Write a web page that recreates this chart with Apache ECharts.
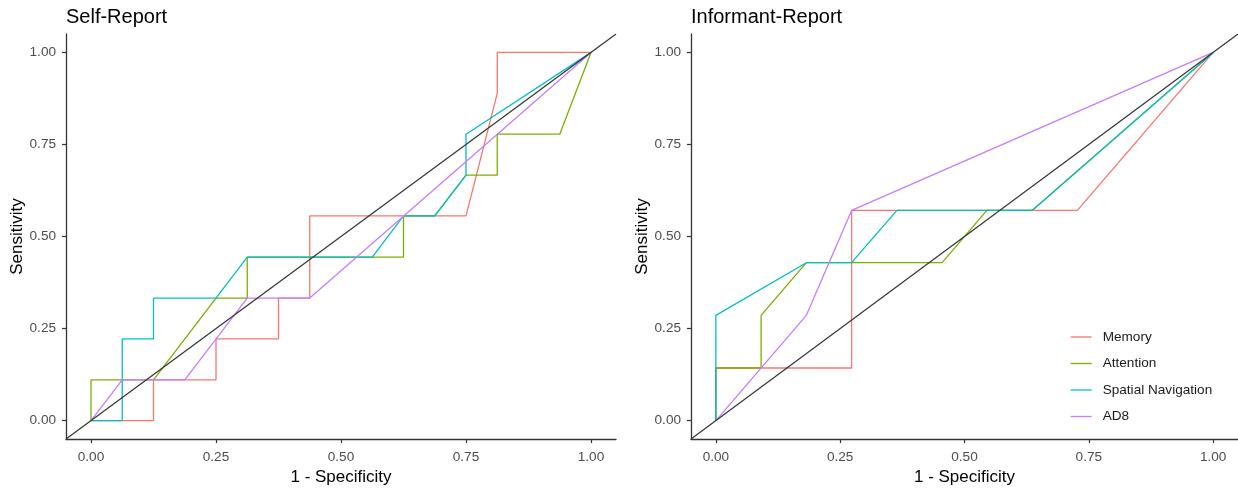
<!DOCTYPE html>
<html>
<head>
<meta charset="utf-8">
<script src="https://cdn.jsdelivr.net/npm/echarts@6/dist/echarts.min.js"></script>
<style>
  html, body { margin: 0; padding: 0; background: #fff; }
  #chart { width: 1238px; height: 491px; }
</style>
</head>
<body>
<div id="chart"></div>
<script>
// ---------- data ----------
const seriesNames = ['Memory', 'Attention', 'Spatial Navigation', 'AD8'];
const seriesColors = ['#F8766D', '#7CAE00', '#00BFC4', '#C77CFF'];
const panelTitles = ['Self-Report', 'Informant-Report'];

const tickValues = [0, 0.25, 0.5, 0.75, 1];
const tickLabels = ['0.00', '0.25', '0.50', '0.75', '1.00'];

// Self-Report ROC paths: [1 - specificity, sensitivity]
const selfMemory = [[0,0],[0.125,0],[0.125,0.111],[0.25,0.111],[0.25,0.222],[0.375,0.222],[0.375,0.333],[0.4375,0.333],[0.4375,0.556],[0.75,0.556],[0.8125,0.889],[0.8125,1],[1,1]];
const selfAttention = [[0,0],[0,0.111],[0.125,0.111],[0.25,0.333],[0.3125,0.333],[0.3125,0.444],[0.625,0.444],[0.625,0.556],[0.6875,0.556],[0.75,0.667],[0.8125,0.667],[0.8125,0.778],[0.9375,0.778],[1,1]];
const selfSpatial = [[0,0],[0.0625,0],[0.0625,0.222],[0.125,0.222],[0.125,0.333],[0.25,0.333],[0.3125,0.444],[0.5625,0.444],[0.625,0.556],[0.6875,0.556],[0.75,0.667],[0.75,0.778],[1,1]];
const selfAD8 = [[0,0],[0.0625,0.111],[0.1875,0.111],[0.3125,0.333],[0.4375,0.333],[1,1]];

// Informant-Report ROC paths
const infMemory = [[0,0],[0,0.143],[0.273,0.143],[0.273,0.571],[0.727,0.571],[1,1]];
const infAttention = [[0,0],[0,0.143],[0.091,0.143],[0.091,0.286],[0.182,0.429],[0.455,0.429],[0.545,0.571],[0.636,0.571],[1,1]];
const infSpatial = [[0,0],[0,0.286],[0.182,0.429],[0.273,0.429],[0.364,0.571],[0.636,0.571],[1,1]];
const infAD8 = [[0,0],[0.182,0.286],[0.273,0.571],[1,1]];

// chance (identity) reference line, spanning the axis range
const refLine = [[-0.05,-0.05],[1.05,1.05]];

const axisMin = -0.05, axisMax = 1.05;

// ---------- chart ----------
const FONT = '"Liberation Sans", Arial, sans-serif';
const panels = [
  [selfMemory, selfAttention, selfSpatial, selfAD8],
  [infMemory, infAttention, infSpatial, infAD8]
];
const gridLefts = [66, 691];

function makeAxis(i, isX) {
  return {
    type: 'value',
    gridIndex: i,
    min: axisMin,
    max: axisMax,
    name: isX ? '1 - Specificity' : 'Sensitivity',
    nameLocation: 'middle',
    nameGap: isX ? 27 : 36,
    nameTextStyle: { fontFamily: FONT, fontSize: 17, color: '#000' },
    axisLine: { show: true, onZero: false, lineStyle: { color: '#333', width: 1.3 } },
    axisTick: { show: true, length: 4, customValues: tickValues, lineStyle: { color: '#333', width: 1.2 } },
    axisLabel: {
      show: true,
      customValues: tickValues,
      margin: isX ? 11 : 10,
      fontFamily: FONT, fontSize: 13.6, color: '#4D4D4D',
      formatter: v => tickLabels[tickValues.indexOf(v)] ?? ''
    },
    splitLine: { show: false }
  };
}

const grids = [], xAxes = [], yAxes = [], titles = [], series = [];
for (let i = 0; i < 2; i++) {
  grids.push({ left: gridLefts[i], top: 34, width: 550, height: 411, containLabel: false });
  xAxes.push(makeAxis(i, true));
  yAxes.push(makeAxis(i, false));
  titles.push({
    text: panelTitles[i], left: gridLefts[i] - 5, top: 2,
    textStyle: { fontFamily: FONT, fontSize: 20, fontWeight: 'normal', color: '#000' }
  });
  panels[i].forEach((d, k) => {
    series.push({
      name: seriesNames[k], type: 'line', xAxisIndex: i, yAxisIndex: i,
      data: d, symbol: 'none', silent: true, animation: false,
      lineStyle: { color: seriesColors[k], width: 1.3 },
      itemStyle: { color: seriesColors[k] }
    });
  });
  series.push({
    name: 'ref' + i, type: 'line', xAxisIndex: i, yAxisIndex: i,
    data: refLine, symbol: 'none', silent: true, animation: false, clip: true,
    lineStyle: { color: '#333', width: 1.2 }
  });
}

const chart = echarts.init(document.getElementById('chart'), null, { renderer: 'canvas' });
chart.setOption({
  backgroundColor: '#fff',
  animation: false,
  title: titles,
  grid: grids,
  xAxis: xAxes,
  yAxis: yAxes,
  legend: {
    data: seriesNames,
    orient: 'vertical',
    left: 1065,
    top: 325,
    itemWidth: 21,
    itemHeight: 14,
    itemGap: 12.5,
    itemStyle: { opacity: 0 },
    lineStyle: { width: 1.3 },
    textStyle: { fontFamily: FONT, fontSize: 13.6, color: '#1a1a1a', padding: [0, 0, 0, 6] },
    selectedMode: false
  },
  series: series
});
</script>
</body>
</html>
